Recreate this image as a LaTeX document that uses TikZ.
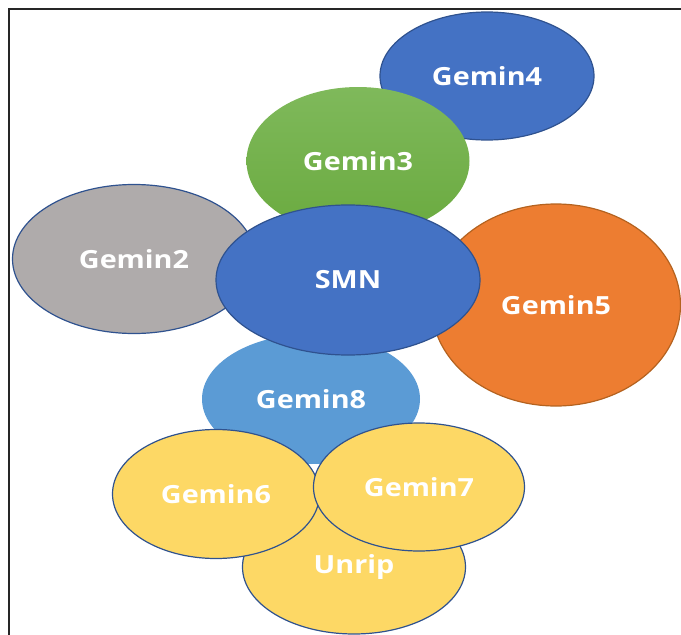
\documentclass[tikz,border=0pt]{standalone}
\usepackage{fontspec}
\setmainfont{Open Sans}[FakeStretch=1.15]
\usepackage{tikz}
\usetikzlibrary{shapes.geometric}
\usetikzlibrary{positioning}
\definecolor{smnblue}{HTML}{4472C4}
\definecolor{edgeblue}{HTML}{2F528F}
\definecolor{skyblue}{HTML}{5B9BD5}
\definecolor{leafgreen}{HTML}{6AAA3F}
\definecolor{leaftop}{HTML}{7FB95B}
\definecolor{stonegray}{HTML}{AFABAB}
\definecolor{rustorange}{HTML}{ED7D31}
\definecolor{rustedge}{HTML}{B4621F}
\definecolor{gold}{HTML}{FDD865}
\tikzset{x=1pt, y=-1pt, font=\fontsize{25}{25}\selectfont\bfseries}
\tikzstyle{blob} = [ellipse, inner sep=0pt, text=white, line width=1.2pt]
\tikzstyle{core} = [blob, draw=edgeblue, fill=smnblue]
\tikzstyle{side} = [blob, draw=edgeblue, fill=stonegray]
\tikzstyle{leaf} = [blob, top color=leaftop, bottom color=leafgreen]
\tikzstyle{rust} = [blob, draw=rustedge, fill=rustorange]
\tikzstyle{sky} = [blob, fill=skyblue]
\tikzstyle{yolk} = [blob, draw=edgeblue, fill=gold]

\begin{document}
\begin{tikzpicture}
    \useasboundingbox (0,0) rectangle (681,635);
    \draw [line width=1.6pt, black!85] (9,635) -- (9,9) -- (681,9);

    \node [core, minimum width=214, minimum height=128] (gemin4) at (487,76) {Gemin4};
    \node [leaf, minimum width=223, minimum height=148] (gemin3) at (358,161) {Gemin3};
    \node [side, minimum width=243, minimum height=149] (gemin2) at (134,259) {Gemin2};
    \node [rust, minimum width=249, minimum height=202] (gemin5) at (556,305) {Gemin5};
    \node [sky, minimum width=218, minimum height=130] (gemin8) at (311,399) {Gemin8};
    \node [core, minimum width=264, minimum height=150] (smn) at (348,280) {SMN};
    \node [yolk, minimum width=223, minimum height=134] (unrip) at (354,567) {Unrip};
    \node [yolk, minimum width=207, minimum height=129] (gemin6) at (216,494) {Gemin6};
    \node [yolk, minimum width=211, minimum height=128] (gemin7) at (419,487) {Gemin7};
\end{tikzpicture}
\end{document}
